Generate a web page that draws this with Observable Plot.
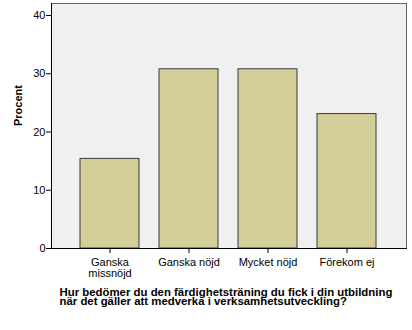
<!DOCTYPE html>
<html>
<head>
<meta charset="utf-8">
<script src="https://cdn.jsdelivr.net/npm/d3@7"></script>
<script src="https://cdn.jsdelivr.net/npm/@observablehq/plot@0.6"></script>
<style>
  html, body { margin: 0; padding: 0; background: #fff; }
  svg { display: block; }
</style>
</head>
<body>
<div id="chart"></div>
<script>
const categories = ["Ganska missnöjd", "Ganska nöjd", "Mycket nöjd", "Förekom ej"];
const tickLabels = ["Ganska\nmissnöjd", "Ganska nöjd", "Mycket nöjd", "Förekom ej"];
const percent = [15.38, 30.77, 30.77, 23.08];
const yTicks = [0, 10, 20, 30, 40];
const yLabel = "Procent";
const titleLines = [
  "Hur bedömer du den färdighetsträning du fick i din utbildning",
  "när det gäller att medverka i verksamhetsutveckling?"
];

const data = categories.map((c, i) => ({category: c, value: percent[i]}));
const labelOf = new Map(categories.map((c, i) => [c, tickLabels[i]]));

const font = "'Liberation Sans', Arial, sans-serif";

const chart = Plot.plot({
  width: 412,
  height: 330,
  marginLeft: 51,
  marginRight: 6,
  marginTop: 3,
  marginBottom: 82,
  style: {fontFamily: font, fontSize: "11px", color: "#000", background: "#fff"},
  x: {domain: categories, paddingInner: 0.25, paddingOuter: 0.344, label: null},
  y: {domain: [0, 42.06], label: null},
  marks: [
    Plot.frame({fill: "#F0F0F0", stroke: "none"}),
    Plot.barY(data, {x: "category", y: "value", fill: "#D3CE97", stroke: "#3a3a3a", strokeWidth: 1}),
    Plot.frame({stroke: "#666", strokeWidth: 1}),
    Plot.frame({anchor: "left", stroke: "#000", strokeWidth: 1}),
    Plot.frame({anchor: "bottom", stroke: "#000", strokeWidth: 1}),
    Plot.axisY({ticks: yTicks, tickSize: 5, tickPadding: 1, fontSize: 11, label: null, stroke: "#000"}),
    Plot.axisX({tickSize: 5, tickPadding: 5, fontSize: 11, label: null, tickFormat: d => labelOf.get(d), lineHeight: 1.0}),
    Plot.text([yLabel], {frameAnchor: "left", rotate: -90, dx: -33, fontWeight: "bold", fontSize: 11}),
    Plot.text([titleLines.join("\n")], {frameAnchor: "bottom-left", dx: 8, dy: 41, textAnchor: "start", lineAnchor: "top", fontWeight: "bold", fontSize: 11.4, lineHeight: 0.82})
  ]
});
document.getElementById("chart").appendChild(chart);
</script>
</body>
</html>
